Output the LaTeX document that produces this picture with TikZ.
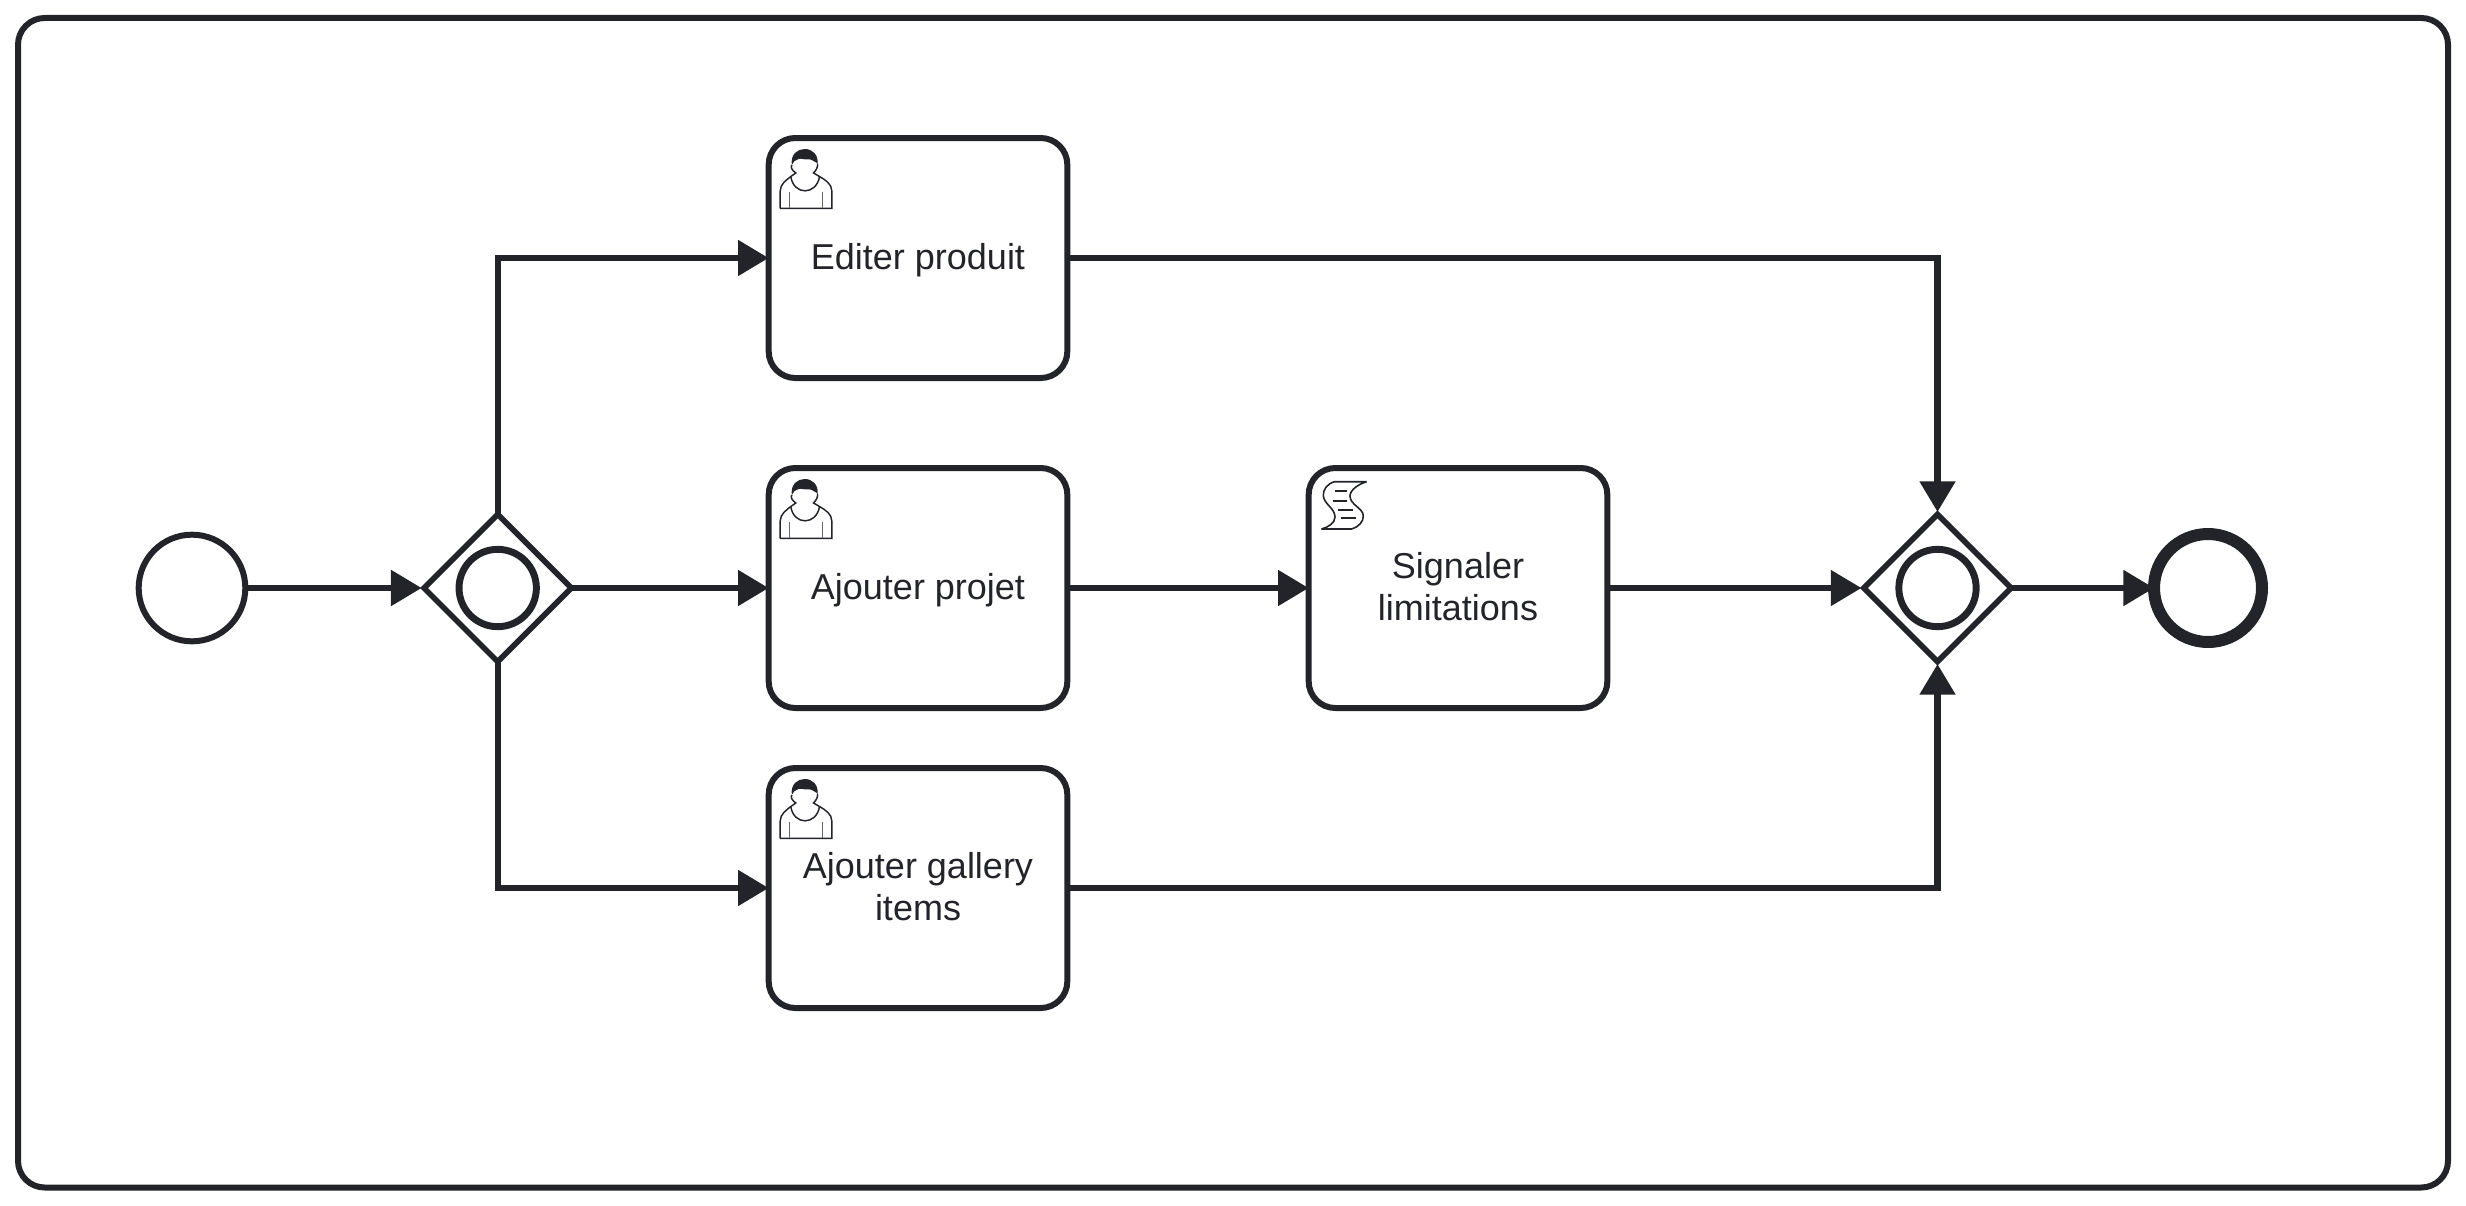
\documentclass[tikz,border=0pt]{standalone}
\usepackage{fontspec}
\setmainfont{Liberation Sans}
\usetikzlibrary{arrows.meta,shapes.geometric}
\definecolor{inkdark}{HTML}{22242A}
\tikzset{
  every node/.style={text=inkdark,font=\fontsize{27}{32}\selectfont},
  taskbox/.style={draw=inkdark,line width=4.5pt,rounded corners=20pt,minimum width=224pt,minimum height=180pt,inner sep=0pt,outer sep=0pt,align=center},
  oneline/.style={text depth=2.8pt},
  twoline/.style={text depth=2.4pt},
  gatebox/.style={draw=inkdark,line width=4.2pt,shape=diamond,minimum size=110.5pt,inner sep=0pt,outer sep=0pt},
  gatering/.style={draw=inkdark,line width=5.2pt,shape=circle,minimum size=58pt,inner sep=0pt},
  startevent/.style={draw=inkdark,line width=4.5pt,shape=circle,minimum size=80pt,inner sep=0pt,outer sep=0pt},
  endevent/.style={draw=inkdark,line width=9pt,shape=circle,minimum size=81pt,inner sep=0pt,outer sep=0pt},
  flow/.style={draw=inkdark,line width=4.7pt,-{Triangle[length=23pt,width=26pt]}},
  togate/.style={shorten >=1.8pt},
  usericon/.pic={
    \fill [inkdark] (23.3,27) .. controls (22,16) and (29,11) .. (36.3,11) .. controls (44,11) and (50,17) .. (49,25.3) .. controls (46,24) and (43,21) .. (40,21.3) .. controls (36,22) and (32,20) .. (30,21) .. controls (27,22) and (24,24) .. (23.3,27) -- cycle;
    \draw [inkdark,line width=1.1pt] (11.7,70.3) -- (11.7,53) .. controls (11.7,46) and (18,42) .. (22.3,38.5) -- (27.3,35) .. controls (23,32) and (22,29) .. (23.3,27);
    \draw [inkdark,line width=1.1pt] (11.7,70.3) -- (63.3,70.3) -- (63.3,53) .. controls (63.3,46) and (57,42) .. (51,38.5) -- (45,35) .. controls (48,32) and (49.5,29) .. (49,25.3);
    \draw [inkdark,line width=1.1pt] (22.3,38.5) .. controls (25,57.6) and (48,57.6) .. (51,38.5);
    \draw [inkdark!70,line width=1.1pt] (21,54.3) -- (21,70.3) (54,54.3) -- (54,70.3);
  },
  scripticon/.pic={
    \draw [inkdark,line width=1.2pt,line join=round] (58.2,13.7) -- (26,13.7) .. controls (18,16) and (14.8,22) .. (14.8,27) .. controls (14.8,36) and (26.5,40) .. (26.5,49) .. controls (26.5,55) and (20,59) .. (13.2,61) -- (43.2,61) .. controls (50,59) and (54.8,54) .. (54.8,48) .. controls (54.8,40) and (41.5,37) .. (41.5,28) .. controls (41.5,22) and (50,16) .. (58.2,13.7);
    \draw [inkdark,line width=1.4pt] (26.5,23) -- (38.2,23) (24.8,32.7) -- (38.2,32.7) (29.8,41.7) -- (44.2,41.7) (32.5,50.3) -- (47.2,50.3);
  }
}
\begin{document}
\begin{tikzpicture}[x=0.75pt,y=0.75pt,yscale=-1,xscale=1,every pic/.style={yscale=-1}]
\useasboundingbox (0,0) rectangle (2466,1206);
\draw [inkdark,line width=4.5pt,rounded corners=20pt] (18,18) rectangle (2448,1187.5);
\node [startevent] (start) at (192,588) {};
\node [gatebox] (gateopen) at (497.7,588) {};
\node [gatering] (ringopen) at (497.7,588) {};
\node [taskbox,oneline] (editer) at (918,258) {Editer produit};
\node [taskbox,oneline] (projet) at (918,588) {Ajouter projet};
\node [taskbox,twoline] (gallery) at (918,888) {Ajouter gallery\\items};
\node [taskbox,twoline] (signaler) at (1458,588) {Signaler\\limitations};
\node [gatebox] (gateclose) at (1937.5,588) {};
\node [gatering] (ringclose) at (1937.5,588) {};
\node [endevent] (finish) at (2208,588) {};
\draw (768.5,138) pic {usericon};
\draw (768.5,468) pic {usericon};
\draw (768.5,768) pic {usericon};
\draw (1308.5,468) pic {scripticon};
\draw [flow,togate] (start) -- (gateopen);
\draw [flow] (gateopen.north) |- (editer.west);
\draw [flow] (gateopen.east) -- (projet.west);
\draw [flow] (gateopen.south) |- (gallery.west);
\draw [flow] (projet.east) -- (signaler.west);
\draw [flow,togate] (signaler.east) -- (gateclose.west);
\draw [flow,togate] (editer.east) -| (gateclose.north);
\draw [flow,togate] (gallery.east) -| (gateclose.south);
\draw [flow] (gateclose.east) -- (finish.west);
\end{tikzpicture}
\end{document}
